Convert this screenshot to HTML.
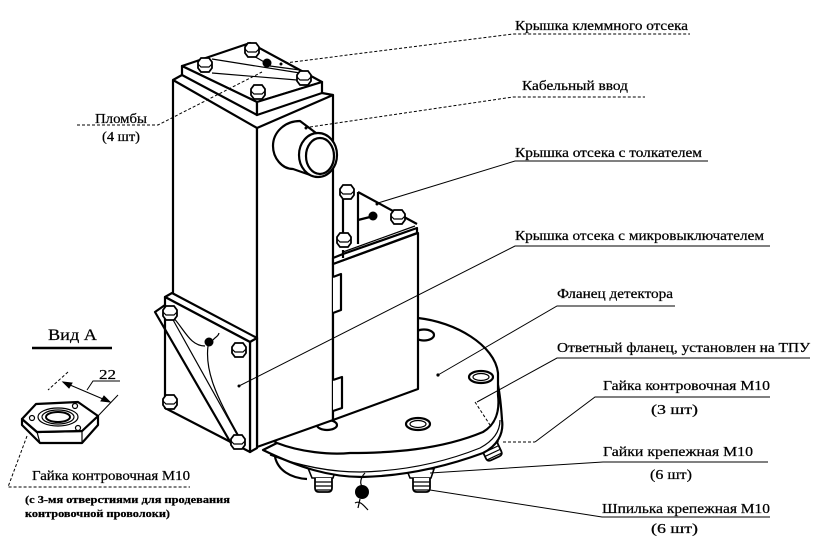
<!DOCTYPE html>
<html><head><meta charset="utf-8"><style>
html,body{margin:0;padding:0;background:#fff;}
svg{display:block;}
text{font-family:"Liberation Serif","DejaVu Serif",serif;fill:#000;stroke:#000;stroke-width:0.25;}
.o{stroke:#000;stroke-width:2.2;fill:#fff;stroke-linejoin:round;}
.on{stroke:#000;stroke-width:2.2;fill:none;stroke-linejoin:round;}
.t{stroke:#000;stroke-width:1.2;fill:none;}
.d{stroke:#000;stroke-width:1;fill:none;stroke-dasharray:3,2;}
.s{stroke:#000;stroke-width:1;fill:none;}
</style></head><body>
<svg width="818" height="547" viewBox="0 0 818 547" xmlns="http://www.w3.org/2000/svg">
<defs>
<g id="b">
<path d="M-7,-3 L-4,-7 L4,-7 L7,-3 L7,3 L4,7 L-4,7 L-7,3 Z" fill="#fff" stroke="#000" stroke-width="1.8"/>
<path d="M-7,-1 L-4,2 L4,2 L7,-1" fill="none" stroke="#000" stroke-width="1.2"/>
</g>
<g id="st">
<path d="M-15,-8 L13,-7 L10,2 L-11,2 Z" fill="#fff" stroke="#000" stroke-width="1.6"/>
<path d="M-8,2 L-8,12 Q-8,16 -4,16 L5,16 Q9,16 9,12 L9,2" fill="#fff" stroke="#000" stroke-width="1.8"/>
<path d="M-8,6 L9,6 M-8,10 L9,10 M-7,14 L8,14" stroke="#000" stroke-width="1.2" fill="none"/>
</g>
</defs>

<!-- ===== Flange assembly ===== -->
<path d="M275,457 C278,470 290,478 307,479" class="o"/>
<use href="#st" x="323" y="476"/>
<use href="#st" x="421" y="476"/>
<g transform="translate(488,444) rotate(-25)"><use href="#st" x="0" y="0"/></g>
<!-- lower flange -->
<path d="M263,450 C300,468 330,477 362,477 C405,476 445,467 483,453 C497,446 504,434 502,420 C501,405 500,395 498,385 L277,443 Z" class="o"/>
<path d="M270,455 C300,466 330,472 360,472 C405,471 445,462 480,448 C493,441 500,432 500,420" class="t"/>
<!-- top flange -->
<path d="M277,443 C300,452 330,455 350,453 C390,453 440,450 483,432 C495,425 500,412 498,395 C498,382 498,375 498,373 C495,345 455,322 418,318 C380,312 300,330 268,380 C258,410 262,435 277,443 Z" class="o"/>
<ellipse cx="424" cy="335" rx="10" ry="5.5" class="o"/>
<ellipse cx="481" cy="377" rx="12" ry="6" class="o"/>
<ellipse cx="481" cy="377" rx="8" ry="3.5" class="t"/>
<ellipse cx="418" cy="424" rx="12" ry="6" class="o"/>
<ellipse cx="418" cy="424" rx="8" ry="3.5" class="t"/>
<ellipse cx="327" cy="425" rx="10" ry="5" class="o"/>
<circle cx="438" cy="375" r="1.6" fill="#000"/>
<!-- ball -->
<path d="M365,473 C360,478 360,484 362,486" class="t"/>
<circle cx="362" cy="492" r="7" fill="#000"/>
<path d="M355,503 C360,500 364,506 368,510" class="t"/>
<path d="M360,499 L358,508" class="t"/>

<!-- ===== Main body ===== -->
<polygon points="173,80 257,128 257,447 173,400" class="o"/>
<polygon points="257,128 333,95 333,420 257,447" class="o"/>
<polygon points="333,264 418,233 418,389 333,420" class="o"/>
<!-- slots -->
<path d="M333,277 L341,274 L341,310 L333,313" class="o"/>
<path d="M333,380 L342,377 L342,408 L333,411" class="o"/>
<!-- main top cap -->
<polygon points="182,66 250,43 322,82 257,102" class="o"/>
<polygon points="182,66 257,102 257,115 182,75" class="o"/>
<polygon points="257,102 322,82 322,93 257,115" class="o"/>
<path d="M173,80 L182,75 M333,95 L322,93" class="on"/>
<path d="M212,59 L300,73 M212,73 L297,80 M252,55 L266,63 M270,66 L300,70" class="t"/>
<use href="#b" x="205" y="65"/>
<use href="#b" x="252" y="50"/>
<use href="#b" x="304" y="78"/>
<use href="#b" x="258" y="92"/>
<circle cx="267" cy="63" r="4.5" fill="#000"/>
<circle cx="281" cy="64" r="1.5" fill="#000"/>
<!-- cable gland -->
<path d="M300,121 C285,121 273,132 273,146 C273,158 282,169 293,169 L316,177 L316,133 L300,121 Z" class="o"/>
<ellipse cx="318" cy="155" rx="19" ry="22" class="o"/>
<ellipse cx="320" cy="156" rx="14" ry="18" class="o"/>
<circle cx="306" cy="128" r="1.5" fill="#000"/>
<!-- middle box top -->
<path d="M333,258 L343,254 L417,228 L417,233 L333,264 Z" class="o"/>
<path d="M343,250 L343,258" class="on"/>
<path d="M343,252 L415,226" class="t"/>
<!-- bracket -->
<path d="M343,195 L343,245 M358,192 L358,244 M358,192 L417,224 M358,220 L370,217" class="on"/>
<use href="#b" x="347" y="192"/>
<use href="#b" x="344" y="240"/>
<use href="#b" x="398" y="217"/>
<circle cx="373" cy="216" r="4.5" fill="#000"/>
<circle cx="377" cy="204" r="1.5" fill="#000"/>
<!-- lower-left plate -->
<polygon points="165,297 172,293 257,338 250,342" class="o"/>
<polygon points="250,342 257,338 257,448 250,452" class="o"/>
<polygon points="165,297 250,342 250,452 165,408" class="o"/>
<path d="M165,305 L155,312 L232,445" class="on"/>
<path d="M172,318 L240,440" class="t"/>
<path d="M172,316 C185,330 190,346 205,346" class="t"/>
<path d="M208,346 C205,370 215,395 240,438" class="t"/>
<path d="M213,340 C216,336 218,337 219,333" class="t"/>
<circle cx="209" cy="342" r="4.5" fill="#000"/>
<use href="#b" x="170" y="313"/>
<use href="#b" x="239" y="350"/>
<use href="#b" x="170" y="402"/>
<use href="#b" x="238" y="442"/>
<circle cx="239" cy="386" r="1.5" fill="#000"/>

<!-- ===== Leaders ===== -->
<path d="M285,63 L513,34 L690,34" class="d"/>
<path d="M310,127 L513,97 L645,97" class="d"/>
<path d="M77,125 L158,125 L262,72" class="d"/>
<path d="M378,203 L515,161 L708,161" class="s"/>
<path d="M239,386 L515,246 L770,246" class="s"/>
<path d="M438,375 L557,306 L675,306" class="s"/>
<path d="M477,402 L557,358 L810,358" class="s"/>
<path d="M475,402 L490,425" class="d"/>
<path d="M535,442 L595,397 L770,397" class="s"/>
<path d="M503,442 L535,442" class="d"/>
<path d="M430,473 L603,462 L768,462" class="s"/>
<path d="M430,490 L602,517 L770,517" class="s"/>

<!-- ===== Labels ===== -->
<text x="515" y="30" font-size="14" textLength="173" lengthAdjust="spacingAndGlyphs">Крышка клеммного отсека</text>
<text x="522" y="90" font-size="14" textLength="106" lengthAdjust="spacingAndGlyphs">Кабельный ввод</text>
<text x="95" y="123" font-size="14" textLength="52" lengthAdjust="spacingAndGlyphs">Пломбы</text>
<text x="102" y="141" font-size="14" textLength="38" lengthAdjust="spacingAndGlyphs">(4 шт)</text>
<text x="515" y="157" font-size="14" textLength="187" lengthAdjust="spacingAndGlyphs">Крышка отсека с толкателем</text>
<text x="515" y="240" font-size="14" textLength="249" lengthAdjust="spacingAndGlyphs">Крышка отсека с микровыключателем</text>
<text x="557" y="298" font-size="14" textLength="116" lengthAdjust="spacingAndGlyphs">Фланец детектора</text>
<text x="557" y="352" font-size="14" textLength="253" lengthAdjust="spacingAndGlyphs">Ответный фланец, установлен на ТПУ</text>
<text x="603" y="390" font-size="14" textLength="167" lengthAdjust="spacingAndGlyphs">Гайка контровочная М10</text>
<text x="651" y="414" font-size="14" textLength="47" lengthAdjust="spacingAndGlyphs">(3 шт)</text>
<text x="603" y="456" font-size="14" textLength="150" lengthAdjust="spacingAndGlyphs">Гайки крепежная М10</text>
<text x="650" y="479" font-size="14" textLength="42" lengthAdjust="spacingAndGlyphs">(6 шт)</text>
<text x="602" y="513" font-size="14" textLength="168" lengthAdjust="spacingAndGlyphs">Шпилька крепежная М10</text>
<text x="651" y="533" font-size="14" textLength="47" lengthAdjust="spacingAndGlyphs">(6 шт)</text>

<!-- ===== Вид А ===== -->
<text x="48" y="340" font-size="16" textLength="49" lengthAdjust="spacingAndGlyphs">Вид А</text>
<path d="M32,348 L112,348" stroke="#000" stroke-width="2.5"/>
<!-- nut -->
<polygon points="22,419 22,425 40,443 82,443 98,425 98,416 82,431 37,432" class="o"/>
<path d="M37,432 L40,443 M82,431 L82,443" class="t"/>
<polygon points="22,419 36,404 78,402 98,416 82,431 37,432" class="o"/>
<ellipse cx="58" cy="417" rx="20" ry="9" class="t"/>
<ellipse cx="58" cy="417" rx="16" ry="7" class="t"/>
<ellipse cx="58" cy="417" rx="12" ry="5" stroke="#000" stroke-width="2" fill="none"/>
<circle cx="32" cy="418" r="2.5" class="t"/>
<circle cx="75" cy="406" r="2.5" class="t"/>
<circle cx="78" cy="428" r="2.5" class="t"/>
<!-- dimension -->
<path d="M68,372 L48,390" class="d"/>
<path d="M118,395 L98,416" class="s"/>
<path d="M63,382 L110,402" class="s"/>
<path d="M63,382 L72,383 L69,388 Z M110,402 L101,401 L104,396 Z" fill="#000" stroke="#000" stroke-width="1"/>
<path d="M87,390 L93,381 L120,381" class="s"/>
<text x="99" y="379" font-size="14" textLength="17" lengthAdjust="spacingAndGlyphs">22</text>
<!-- left label -->
<path d="M27,436 L8,487 L190,487" class="d"/>
<text x="32" y="480" font-size="14" textLength="158" lengthAdjust="spacingAndGlyphs">Гайка контровочная М10</text>
<text x="25" y="503" font-size="11" font-weight="bold" textLength="205" lengthAdjust="spacingAndGlyphs">(с 3-мя отверстиями для продевания</text>
<text x="25" y="517" font-size="11" font-weight="bold" textLength="145" lengthAdjust="spacingAndGlyphs">контровочной проволоки)</text>
</svg>
</body></html>
